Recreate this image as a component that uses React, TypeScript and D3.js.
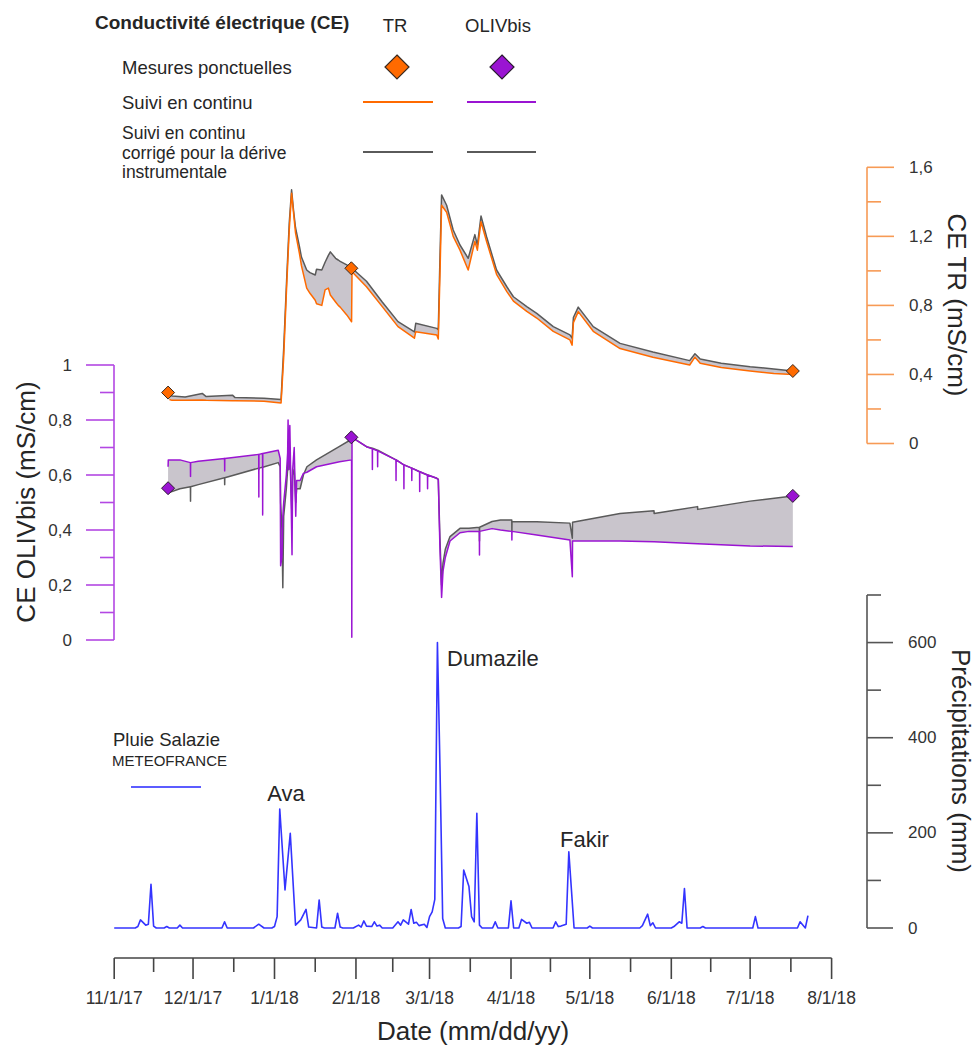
import React from "react";
import * as d3 from "d3";

const FONT = '"Liberation Sans", Arial, Helvetica, sans-serif';
const parseT = d3.timeParse("%Y-%m-%d %H");
const toDate = (s: string) => parseT(s.length > 10 ? s : s + " 00") as Date;

// ---- CE TR (mS/cm): raw continuous (orange) and drift-corrected (grey)
const trDates = [
  "2017-11-22 00", "2017-11-23 00", "2017-11-28 00", "2017-12-04 12", "2017-12-06 00",
  "2017-12-16 00", "2017-12-17 00", "2017-12-28 00", "2018-01-03 12", "2018-01-04 12",
  "2018-01-05 15", "2018-01-06 15", "2018-01-07 12", "2018-01-08 06", "2018-01-09 00",
  "2018-01-10 12", "2018-01-11 06", "2018-01-13 06", "2018-01-14 12", "2018-01-16 12",
  "2018-01-17 00", "2018-01-19 00", "2018-01-20 06", "2018-01-21 12", "2018-01-22 06",
  "2018-01-24 06", "2018-01-25 06", "2018-01-26 00", "2018-01-28 12", "2018-01-30 08",
  "2018-01-30 12", "2018-02-05 00", "2018-02-11 00", "2018-02-17 00", "2018-02-23 06",
  "2018-02-23 18", "2018-03-03 18", "2018-03-04 08", "2018-03-05 00", "2018-03-05 14",
  "2018-03-07 12", "2018-03-10 00", "2018-03-12 14", "2018-03-15 17", "2018-03-18 06",
  "2018-03-19 05", "2018-03-20 14", "2018-03-22 17", "2018-03-26 12", "2018-03-30 10",
  "2018-04-01 22", "2018-04-07 00", "2018-04-10 19", "2018-04-17 02", "2018-04-23 10",
  "2018-04-24 06", "2018-04-24 18", "2018-04-26 14", "2018-05-02 07", "2018-05-12 12",
  "2018-05-25 00", "2018-06-08 00", "2018-06-10 00", "2018-06-12 00", "2018-06-20 00",
  "2018-07-01 00", "2018-07-10 00", "2018-07-17 06",
];
const trRaw = [
  0.255, 0.25, 0.25, 0.252, 0.25,
  0.248, 0.248, 0.245, 0.235, 0.5,
  0.91, 1.24, 1.45, 1.335, 1.22,
  1.1, 1.03, 0.9, 0.87, 0.83,
  0.81, 0.8, 0.89, 0.9, 0.86,
  0.82, 0.8, 0.79, 0.745, 0.705,
  0.995, 0.908, 0.793, 0.677, 0.61,
  0.648, 0.629, 0.605, 1.0, 1.38,
  1.34, 1.2, 1.12, 1.005, 1.17,
  1.12, 1.285, 1.17, 0.98, 0.88,
  0.825, 0.765, 0.727, 0.65, 0.6,
  0.57, 0.7, 0.764, 0.65, 0.55,
  0.5, 0.455, 0.5, 0.465, 0.44,
  0.42, 0.405, 0.4,
];
const trCorr = [
  0.29, 0.275, 0.27, 0.29, 0.272,
  0.28, 0.266, 0.262, 0.255, 0.55,
  0.95, 1.28, 1.47, 1.35, 1.25,
  1.14, 1.08, 1.005, 0.99, 0.976,
  1.01, 1.005, 1.05, 1.09, 1.11,
  1.073, 1.063, 1.055, 1.035, 1.015,
  1.015, 0.94, 0.82, 0.706, 0.646,
  0.696, 0.667, 0.66, 1.1, 1.44,
  1.38, 1.237, 1.15, 1.073, 1.21,
  1.15, 1.318, 1.198, 1.005, 0.908,
  0.85, 0.793, 0.754, 0.677, 0.629,
  0.61, 0.73, 0.79, 0.677, 0.58,
  0.53, 0.48, 0.52, 0.49, 0.465,
  0.445, 0.432, 0.42,
];
const trSpotDates = ["2017-11-21 12", "2018-01-30 06", "2018-07-17 06"];
const trSpotValues = [0.295, 1.015, 0.42];

// ---- CE OLIVbis (mS/cm): raw continuous (purple) and drift-corrected (grey)
const olDates = [
  "2017-11-21 12", "2017-11-21 14", "2017-11-26 00", "2017-11-30 00", "2017-11-30 01",
  "2017-11-30 02", "2017-12-03 00", "2017-12-13 00", "2017-12-13 01", "2017-12-13 02",
  "2017-12-26 00", "2017-12-26 01", "2017-12-26 02", "2017-12-27 11", "2017-12-27 12",
  "2017-12-27 13", "2018-01-02 10", "2018-01-03 04", "2018-01-03 08", "2018-01-03 20",
  "2018-01-04 04", "2018-01-04 12", "2018-01-05 12", "2018-01-06 00", "2018-01-06 04",
  "2018-01-06 10", "2018-01-06 20", "2018-01-07 04", "2018-01-07 16", "2018-01-07 22",
  "2018-01-08 12", "2018-01-09 02", "2018-01-09 10", "2018-01-10 18", "2018-01-12 00",
  "2018-01-13 08", "2018-01-17 00", "2018-01-25 18", "2018-01-30 08", "2018-01-30 10",
  "2018-01-30 12", "2018-02-05 00", "2018-02-07 05", "2018-02-07 06", "2018-02-07 07",
  "2018-02-09 05", "2018-02-09 06", "2018-02-09 07", "2018-02-16 05", "2018-02-16 06",
  "2018-02-16 07", "2018-02-19 05", "2018-02-19 06", "2018-02-19 07", "2018-02-22 05",
  "2018-02-22 06", "2018-02-22 07", "2018-02-25 05", "2018-02-25 06", "2018-02-25 07",
  "2018-02-28 05", "2018-02-28 06", "2018-02-28 07", "2018-03-03 18", "2018-03-04 08",
  "2018-03-04 22", "2018-03-05 14", "2018-03-06 03", "2018-03-07 00", "2018-03-08 19",
  "2018-03-12 14", "2018-03-16 00", "2018-03-19 23", "2018-03-20 00", "2018-03-20 01",
  "2018-03-24 19", "2018-03-28 00", "2018-04-01 07", "2018-04-01 08", "2018-04-01 09",
  "2018-04-10 19", "2018-04-23 10", "2018-04-24 08", "2018-04-24 10", "2018-05-12 12",
  "2018-05-25 10", "2018-05-25 11", "2018-06-11 00", "2018-06-11 01", "2018-07-01 00",
  "2018-07-17 06",
];
const olRaw = [
  0.63, 0.655, 0.655, 0.645, 0.595,
  0.645, 0.65, 0.66, 0.615, 0.66,
  0.675, 0.52, 0.675, 0.678, 0.455,
  0.678, 0.69, 0.66, 0.27, 0.3,
  0.45, 0.5, 0.6, 0.68, 0.8,
  0.62, 0.78, 0.6, 0.31, 0.62,
  0.7, 0.45, 0.58, 0.58, 0.606,
  0.61, 0.63, 0.648, 0.655, 0.01,
  0.737, 0.703, 0.695, 0.62, 0.695,
  0.688, 0.63, 0.688, 0.655, 0.58,
  0.655, 0.637, 0.55, 0.637, 0.625,
  0.58, 0.625, 0.612, 0.54, 0.612,
  0.6, 0.55, 0.6, 0.588, 0.582,
  0.35, 0.155, 0.25, 0.3, 0.36,
  0.39, 0.395, 0.395, 0.309, 0.395,
  0.405, 0.4, 0.395, 0.364, 0.395,
  0.382, 0.364, 0.23, 0.36, 0.36,
  0.357, 0.357, 0.35, 0.35, 0.342,
  0.34,
];
const olCorr = [
  0.552, 0.535, 0.55, 0.557, 0.505,
  0.557, 0.565, 0.59, 0.565, 0.59,
  0.625, 0.62, 0.625, 0.628, 0.628,
  0.628, 0.645, 0.63, 0.5, 0.4,
  0.19, 0.45, 0.55, 0.62, 0.72,
  0.62, 0.7, 0.58, 0.45, 0.6,
  0.62, 0.5, 0.55, 0.55, 0.6,
  0.63, 0.655, 0.704, 0.73, 0.735,
  0.737, 0.703, 0.697, 0.697, 0.697,
  0.69, 0.69, 0.69, 0.655, 0.655,
  0.655, 0.637, 0.637, 0.637, 0.625,
  0.625, 0.625, 0.612, 0.612, 0.612,
  0.6, 0.6, 0.6, 0.588, 0.585,
  0.38, 0.2, 0.28, 0.33, 0.376,
  0.406, 0.406, 0.41, 0.36, 0.41,
  0.431, 0.436, 0.436, 0.395, 0.43,
  0.43, 0.425, 0.37, 0.428, 0.46,
  0.47, 0.46, 0.485, 0.475, 0.505,
  0.524,
];
const olSpotDates = ["2017-11-21 12", "2018-01-30 06", "2018-07-17 06"];
const olSpotValues = [0.552, 0.737, 0.524];

// ---- Pluie Salazie (mm), METEOFRANCE
const rainDates = [
  "2017-11-01", "2017-11-09", "2017-11-10", "2017-11-11", "2017-11-13", "2017-11-14",
  "2017-11-15", "2017-11-16", "2017-11-17", "2017-11-20", "2017-11-21", "2017-11-22",
  "2017-11-25", "2017-11-26", "2017-11-27", "2017-12-12", "2017-12-13", "2017-12-14",
  "2017-12-24", "2017-12-26", "2017-12-28", "2017-12-31", "2018-01-01", "2018-01-02",
  "2018-01-03", "2018-01-05", "2018-01-07", "2018-01-09", "2018-01-11", "2018-01-13",
  "2018-01-14", "2018-01-17", "2018-01-18", "2018-01-19", "2018-01-20", "2018-01-24",
  "2018-01-25", "2018-01-26", "2018-01-27", "2018-01-31", "2018-02-02", "2018-02-03",
  "2018-02-04", "2018-02-05", "2018-02-07", "2018-02-08", "2018-02-09", "2018-02-10",
  "2018-02-11", "2018-02-15", "2018-02-17", "2018-02-18", "2018-02-19", "2018-02-21",
  "2018-02-22", "2018-02-23", "2018-02-24", "2018-02-25", "2018-02-27", "2018-02-28",
  "2018-03-01", "2018-03-02", "2018-03-03", "2018-03-04", "2018-03-05", "2018-03-06",
  "2018-03-07", "2018-03-12", "2018-03-13", "2018-03-14", "2018-03-16", "2018-03-17",
  "2018-03-18", "2018-03-19", "2018-03-20", "2018-03-21", "2018-03-25", "2018-03-26",
  "2018-03-27", "2018-03-31", "2018-04-01", "2018-04-02", "2018-04-04", "2018-04-05",
  "2018-04-07", "2018-04-08", "2018-04-09", "2018-04-17", "2018-04-18", "2018-04-19",
  "2018-04-20", "2018-04-22", "2018-04-23", "2018-04-25", "2018-04-30", "2018-05-01",
  "2018-05-02", "2018-05-20", "2018-05-21", "2018-05-23", "2018-05-24", "2018-05-25",
  "2018-05-26", "2018-06-01", "2018-06-02", "2018-06-04", "2018-06-05", "2018-06-06",
  "2018-06-07", "2018-06-12", "2018-06-13", "2018-06-14", "2018-07-02", "2018-07-03",
  "2018-07-04", "2018-07-19", "2018-07-20", "2018-07-22", "2018-07-23",
];
const rainMm = [
  0, 0, 3, 17, 6, 8,
  92, 4, 0, 0, 3, 0,
  0, 6, 0, 0, 13, 0,
  0, 8, 0, 0, 3, 24,
  250, 80, 199, 6, 17, 39,
  2, 0, 59, 2, 0, 0,
  31, 2, 0, 0, 6, 2,
  15, 4, 3, 13, 4, 6,
  0, 0, 13, 6, 17, 8,
  39, 10, 12, 5, 8, 1,
  24, 34, 60, 600, 330, 20,
  0, 0, 3, 122, 87, 24,
  13, 241, 6, 0, 0, 13,
  0, 0, 57, 0, 0, 18,
  10, 12, 0, 0, 13, 3,
  4, 8, 160, 0, 0, 4,
  0, 0, 5, 29, 5, 11,
  0, 0, 3, 13, 10, 83,
  0, 0, 3, 0, 0, 24,
  0, 0, 13, 0, 26,
];

const cycloneNames = ["Ava", "Dumazile", "Fakir"];

const C_ORANGE = "#ff6a00";
const C_PURPLE = "#9a14d2";
const C_GREY = "#5a5a5a";
const C_FILL = "#c9c5cc";
const C_BLUE = "#3434ff";
const C_TR_AXIS = "#f79a55";
const C_OL_AXIS = "#b347e3";
const C_TEXT = "#262626";

const diamond = (r: number) => `M0,${-r}L${r},0L0,${r}L${-r},0Z`;

export default function App() {
  const W = 976;
  const H = 1048;
  const x = d3
    .scaleTime()
    .domain([new Date(2017, 10, 1), new Date(2018, 7, 1)])
    .range([114.2, 831.6]);
  const yTR = d3.scaleLinear().domain([0, 1.6]).range([443.5, 167.3]);
  const yOL = d3.scaleLinear().domain([0, 1]).range([640, 365]);
  const yP = d3.scaleLinear().domain([0, 700]).range([928, 595]);

  const trData = trDates.map((s, i) => ({ d: toDate(s), raw: trRaw[i], corr: trCorr[i] }));
  const olData = olDates.map((s, i) => ({ d: toDate(s), raw: olRaw[i], corr: olCorr[i] }));
  const rain = rainDates.map((s, i) => ({ d: toDate(s), v: rainMm[i] }));

  const trArea = d3.area<any>().x((p) => x(p.d)).y0((p) => yTR(p.raw)).y1((p) => yTR(p.corr));
  const trRawLine = d3.line<any>().x((p) => x(p.d)).y((p) => yTR(p.raw));
  const trCorrLine = d3.line<any>().x((p) => x(p.d)).y((p) => yTR(p.corr));
  const olArea = d3.area<any>().x((p) => x(p.d)).y0((p) => yOL(p.raw)).y1((p) => yOL(p.corr));
  const olRawLine = d3.line<any>().x((p) => x(p.d)).y((p) => yOL(p.raw));
  const olCorrLine = d3.line<any>().x((p) => x(p.d)).y((p) => yOL(p.corr));
  const rainLine = d3.line<any>().x((p) => x(p.d)).y((p) => yP(p.v));

  const months = d3.timeMonth.range(new Date(2017, 10, 1), new Date(2018, 7, 2));
  const minors = months
    .slice(0, -1)
    .map((m, i) => new Date((m.getTime() + months[i + 1].getTime()) / 2));
  const fmtX = d3.timeFormat("%-m/%-d/%y");
  const dec = (v: number) => (v === 0 ? "0" : Number.isInteger(v) ? String(v) : v.toFixed(1).replace(".", ","));

  const trTicks = d3.range(9).map((i) => ({ v: i * 0.2, major: i % 2 === 0 }));
  const olTicks = d3.range(11).map((i) => ({ v: i / 10, major: i % 2 === 0 }));
  const pTicks = d3.range(8).map((i) => ({ v: i * 100, major: i % 2 === 0 && i < 7 }));

  const axX = 867;
  const olX = 114;

  return (
    <svg
      width={W}
      height={H}
      viewBox={`0 0 ${W} ${H}`}
      style={{ position: "absolute", left: 0, top: 0, display: "block", background: "#fff" }}
      fontFamily={FONT}
    >
      {/* ---------- Legend ---------- */}
      <g fill={C_TEXT} fontSize={18.5}>
        <text x={95} y={22} fontWeight="bold" fontSize={19} dominantBaseline="central">
          Conductivité électrique (CE)
        </text>
        <text x={395} y={25} textAnchor="middle" dominantBaseline="central">TR</text>
        <text x={498} y={25} textAnchor="middle" dominantBaseline="central">OLIVbis</text>
        <text x={122} y={67} dominantBaseline="central">Mesures ponctuelles</text>
        <text x={122} y={102} dominantBaseline="central">Suivi en continu</text>
      </g>
      <g fill={C_TEXT} fontSize={17.5}>
        <text x={122} y={133} dominantBaseline="central">Suivi en continu</text>
        <text x={122} y={152.5} dominantBaseline="central">corrigé pour la dérive</text>
        <text x={122} y={172} dominantBaseline="central">instrumentale</text>
      </g>
      <path d={diamond(12)} transform="translate(397,67)" fill={C_ORANGE} stroke="#3a2a20" strokeWidth={1.2} />
      <path d={diamond(12)} transform="translate(502,67)" fill={C_PURPLE} stroke="#2a1a30" strokeWidth={1.2} />
      <line x1={363} x2={433} y1={102} y2={102} stroke={C_ORANGE} strokeWidth={2} />
      <line x1={467} x2={536} y1={102} y2={102} stroke={C_PURPLE} strokeWidth={2} />
      <line x1={363} x2={433} y1={152} y2={152} stroke={C_GREY} strokeWidth={2} />
      <line x1={467} x2={536} y1={152} y2={152} stroke={C_GREY} strokeWidth={2} />

      {/* ---------- TR axis (right) ---------- */}
      <line x1={axX} x2={axX} y1={yTR(1.6)} y2={yTR(0)} stroke={C_TR_AXIS} strokeWidth={1.6} />
      {trTicks.map((t, i) => (
        <g key={"trt" + i}>
          <line x1={axX} x2={axX + (t.major ? 27 : 14)} y1={yTR(t.v)} y2={yTR(t.v)} stroke={C_TR_AXIS} strokeWidth={1.6} />
          {t.major && (
            <text x={909} y={yTR(t.v)} fontSize={17} fill="#333" dominantBaseline="central">
              {dec(Math.round(t.v * 10) / 10)}
            </text>
          )}
        </g>
      ))}
      <text transform="translate(957,305) rotate(90)" textAnchor="middle" dominantBaseline="central" fontSize={26} fill={C_TEXT}>
        CE TR (mS/cm)
      </text>

      {/* ---------- OLIVbis axis (left) ---------- */}
      <line x1={olX} x2={olX} y1={yOL(1)} y2={yOL(0)} stroke={C_OL_AXIS} strokeWidth={1.6} />
      {olTicks.map((t, i) => (
        <g key={"olt" + i}>
          <line x1={olX - (t.major ? 28 : 14)} x2={olX} y1={yOL(t.v)} y2={yOL(t.v)} stroke={C_OL_AXIS} strokeWidth={1.6} />
          {t.major && (
            <text x={72} y={yOL(t.v)} fontSize={17} fill="#333" textAnchor="end" dominantBaseline="central">
              {dec(Math.round(t.v * 10) / 10)}
            </text>
          )}
        </g>
      ))}
      <text transform="translate(26,502) rotate(-90)" textAnchor="middle" dominantBaseline="central" fontSize={26} fill={C_TEXT}>
        CE OLIVbis (mS/cm)
      </text>

      {/* ---------- Precipitation axis ---------- */}
      <line x1={axX} x2={axX} y1={yP(700)} y2={yP(0)} stroke="#555" strokeWidth={1.6} />
      {pTicks.map((t, i) => (
        <g key={"pt" + i}>
          <line x1={axX} x2={axX + (t.major ? 26 : 14)} y1={yP(t.v)} y2={yP(t.v)} stroke="#555" strokeWidth={1.6} />
          {t.major && (
            <text x={908} y={yP(t.v)} fontSize={17} fill="#333" dominantBaseline="central">
              {t.v}
            </text>
          )}
        </g>
      ))}
      <text transform="translate(961,761) rotate(90)" textAnchor="middle" dominantBaseline="central" fontSize={26} fill={C_TEXT}>
        Précipitations (mm)
      </text>

      {/* ---------- TR series ---------- */}
      <path d={trArea(trData) || ""} fill={C_FILL} stroke="none" />
      <path d={trCorrLine(trData) || ""} fill="none" stroke={C_GREY} strokeWidth={1.5} strokeLinejoin="round" />
      <path d={trRawLine(trData) || ""} fill="none" stroke={C_ORANGE} strokeWidth={1.5} strokeLinejoin="round" />

      {/* ---------- OLIVbis series ---------- */}
      <path d={olArea(olData) || ""} fill={C_FILL} stroke="none" />
      <path d={olCorrLine(olData) || ""} fill="none" stroke={C_GREY} strokeWidth={1.5} strokeLinejoin="round" />
      <path d={olRawLine(olData) || ""} fill="none" stroke={C_PURPLE} strokeWidth={1.5} strokeLinejoin="round" />

      {/* spot measurements */}
      {trSpotDates.map((s, i) => (
        <path key={"trs" + i} d={diamond(6.5)} transform={`translate(${x(toDate(s))},${yTR(trSpotValues[i])})`} fill={C_ORANGE} stroke="#3a2a20" strokeWidth={1} />
      ))}
      {olSpotDates.map((s, i) => (
        <path key={"ols" + i} d={diamond(6.5)} transform={`translate(${x(toDate(s))},${yOL(olSpotValues[i])})`} fill={C_PURPLE} stroke="#2a1a30" strokeWidth={1} />
      ))}

      {/* ---------- Rain ---------- */}
      <path d={rainLine(rain) || ""} fill="none" stroke={C_BLUE} strokeWidth={1.6} strokeLinejoin="round" />
      <g fill={C_TEXT}>
        <text x={113} y={739} fontSize={18.5} dominantBaseline="central">Pluie Salazie</text>
        <text x={112} y={760} fontSize={15} dominantBaseline="central">METEOFRANCE</text>
      </g>
      <line x1={131} x2={201} y1={787} y2={787} stroke="#5c5cff" strokeWidth={2} />
      <g fill={C_TEXT} fontSize={22}>
        <text x={286} y={793} textAnchor="middle" dominantBaseline="central">{cycloneNames[0]}</text>
        <text x={447} y={658} dominantBaseline="central">{cycloneNames[1]}</text>
        <text x={560} y={839} dominantBaseline="central">{cycloneNames[2]}</text>
      </g>

      {/* ---------- X axis ---------- */}
      <line x1={x.range()[0]} x2={x.range()[1]} y1={958} y2={958} stroke="#444" strokeWidth={1.6} />
      {months.map((m, i) => (
        <g key={"xm" + i}>
          <line x1={x(m)} x2={x(m)} y1={958} y2={979} stroke="#444" strokeWidth={1.6} />
          <text x={x(m)} y={998} fontSize={17.5} fill="#333" textAnchor="middle" dominantBaseline="central">
            {fmtX(m)}
          </text>
        </g>
      ))}
      {minors.map((m, i) => (
        <line key={"xn" + i} x1={x(m)} x2={x(m)} y1={958} y2={972} stroke="#444" strokeWidth={1.6} />
      ))}
      <text x={473} y={1031} fontSize={26} fill={C_TEXT} textAnchor="middle" dominantBaseline="central">
        Date (mm/dd/yy)
      </text>
    </svg>
  );
}
